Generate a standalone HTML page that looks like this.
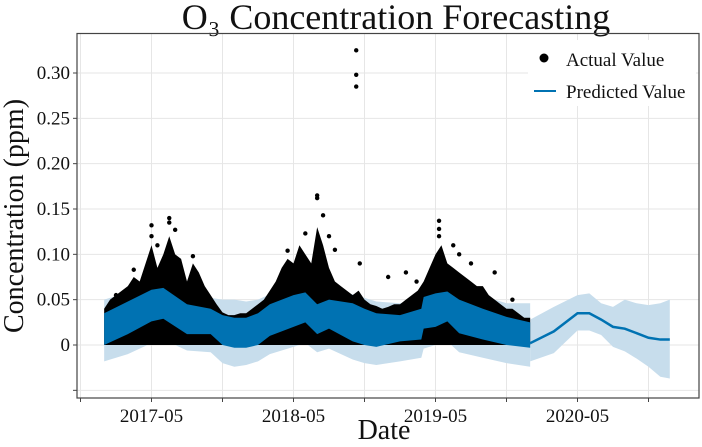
<!DOCTYPE html>
<html><head><meta charset="utf-8"><style>
body{margin:0;background:#fff;width:702px;height:442px;overflow:hidden}
svg text{font-family:"Liberation Serif",serif;fill:#111}
</style></head><body>
<svg id="chart" width="702" height="442" viewBox="0 0 702 442" xmlns="http://www.w3.org/2000/svg">
<text x="396" y="29" font-size="36" text-anchor="middle">O₃ Concentration Forecasting</text>
<g id="grid"></g>
<g id="marks"></g>
<rect x="77" y="33.5" width="622" height="364.5" fill="none" stroke="#444" stroke-width="1.2"/>
<g id="axes"></g>
<text transform="translate(23,216) rotate(-90)" font-size="28" text-anchor="middle">Concentration (ppm)</text>
<text x="384" y="439" font-size="28" text-anchor="middle">Date</text>
<g>
<rect x="528" y="40" width="168" height="66" fill="#fff"/>
<circle cx="544" cy="58" r="4.5" fill="#000"/>
<text x="566" y="66" font-size="19">Actual Value</text>
<line x1="534" y1="91" x2="556" y2="91" stroke="#0072B2" stroke-width="2"/>
<text x="566" y="98" font-size="19">Predicted Value</text>
</g>
</svg>
<script>
// months since 2016-11
const histMonths = [2,4,6,7,9,11,12,13,14,15,16,18,19,20,21,23,24,25,27,28.8,29,30,31,32,34,36,38];
const histYhatHigh = [0.035,0.048,0.061,0.063,0.045,0.04,0.033,0.03,0.03,0.035,0.045,0.055,0.058,0.045,0.05,0.046,0.04,0.035,0.033,0.04,0.053,0.057,0.059,0.05,0.04,0.031,0.025];
const histYhatLow = [0.0,0.012,0.026,0.029,0.012,0.012,0.0,-0.003,-0.003,0.0,0.01,0.02,0.025,0.012,0.018,0.004,0.0,-0.002,0.004,0.006,0.018,0.02,0.026,0.013,0.006,0.0,-0.003];
const histUpper = [0.05,0.058,0.07,0.072,0.058,0.052,0.05,0.05,0.048,0.05,0.056,0.065,0.068,0.058,0.06,0.056,0.052,0.048,0.046,0.052,0.063,0.068,0.07,0.062,0.054,0.046,0.046];
const histLower = [-0.018,-0.01,0.002,0.006,-0.006,-0.008,-0.02,-0.024,-0.022,-0.018,-0.01,-0.002,0.002,-0.008,-0.004,-0.016,-0.02,-0.022,-0.018,-0.014,-0.004,0.0,0.004,-0.008,-0.014,-0.02,-0.024];
const obsMonths = [2,2.5,3,3.5,4,4.5,5,5.5,6,6.5,7,7.5,8,8.5,9,9.5,10,10.5,11,11.5,12,12.5,13,13.5,14,14.5,15,15.5,16,16.5,17,17.5,18,18.5,19,19.5,20,20.5,21,21.5,22,22.5,23,23.5,24,24.5,25,25.5,26,26.5,27,27.5,28,28.5,29,29.5,30,30.5,31,31.5,32,32.5,33,33.5,34,34.5,35,35.5,36,36.5,37,37.5,38];
const obsHigh = [0.04,0.05,0.055,0.06,0.065,0.075,0.07,0.09,0.11,0.085,0.1,0.12,0.1,0.095,0.07,0.09,0.08,0.065,0.055,0.045,0.036,0.033,0.033,0.035,0.035,0.04,0.045,0.05,0.06,0.07,0.085,0.095,0.09,0.11,0.1,0.09,0.13,0.11,0.085,0.07,0.065,0.06,0.055,0.06,0.05,0.045,0.043,0.04,0.042,0.045,0.045,0.05,0.055,0.06,0.07,0.085,0.1,0.11,0.09,0.085,0.08,0.075,0.07,0.065,0.065,0.055,0.05,0.045,0.04,0.04,0.035,0.03,0.03];
const spikeMonths = [3,4.5,6,6,6.5,7.5,7.5,8,9.5,17.5,19,20,20,20.5,21,21.5,23.3,23.3,23.3,23.6,26,27.5,28.4,30.3,30.3,30.3,31.5,32,33,35,36.5];
const spikeValues = [0.055,0.083,0.132,0.12,0.11,0.14,0.135,0.127,0.098,0.104,0.123,0.165,0.162,0.143,0.12,0.105,0.325,0.298,0.285,0.09,0.075,0.08,0.07,0.137,0.128,0.12,0.11,0.1,0.09,0.08,0.05];
const fcMonths = [38,40,42,43,44,45,46,47,48,49,49.8];
const fcYhat = [0.002,0.015,0.035,0.035,0.028,0.02,0.018,0.013,0.008,0.006,0.006];
const fcUpper = [0.028,0.042,0.055,0.057,0.046,0.042,0.05,0.046,0.044,0.046,0.05];
const fcLower = [-0.018,-0.009,0.016,0.016,0.011,-0.002,-0.007,-0.015,-0.024,-0.035,-0.037];
const yTicks = [-0.05,0,0.05,0.1,0.15,0.2,0.25,0.3];
const yTickLabels = ["","0","0.05","0.10","0.15","0.20","0.25","0.30"];
const xGridMonths = [0,6,12,18,24,30,36,42,48];
const xTickMonths = [6,18,30,42];
const xTickLabels = ["2017-05","2018-05","2019-05","2020-05"];

const NS="http://www.w3.org/2000/svg";
const X = m => 80.5 + m*71/6;
const Y = v => 345 - v*906.7;
function mk(tag, attrs, parent){const e=document.createElementNS(NS,tag);for(const k in attrs)e.setAttribute(k,attrs[k]);parent.appendChild(e);return e;}
const grid=document.getElementById('grid'), marks=document.getElementById('marks'), axes=document.getElementById('axes');
yTicks.forEach((v,i)=>{
  const g=mk('line',{x1:77,x2:699,y1:Y(v),y2:Y(v),stroke:'#e6e6e6','stroke-width':1},grid);
  
  
  const t=mk('line',{x1:73,x2:77,y1:Y(v),y2:Y(v),stroke:'#444'},axes);
  
  
  if(yTickLabels[i]){const l=mk('text',{x:70,y:Y(v)+6,'font-size':19,'text-anchor':'end'},axes);l.textContent=yTickLabels[i];
  
  }
});
xGridMonths.forEach(m=>{
  const g=mk('line',{x1:X(m),x2:X(m),y1:34,y2:398,stroke:'#e6e6e6','stroke-width':1},grid);
  
  
  const t=mk('line',{x1:X(m),x2:X(m),y1:398,y2:402,stroke:'#444'},axes);
  
  
});
xTickMonths.forEach((m,i)=>{const l=mk('text',{x:X(m),y:422,'font-size':19,'text-anchor':'middle'},axes);l.textContent=xTickLabels[i];
  
  });
function band(ms,hi,lo,fill,name){
  let d='M'+ms.map((m,i)=>X(m)+','+Y(hi[i])).join('L');
  for(let i=ms.length-1;i>=0;i--)d+='L'+X(ms[i])+','+Y(lo[i]);
  const p=mk('path',{d:d+'Z',fill:fill},marks);
  
  
}
band(histMonths,histUpper,histLower,'#c7ddec','history-uncertainty-band');
band(fcMonths,fcUpper,fcLower,'#c7ddec','forecast-uncertainty-band');
band(obsMonths,obsHigh,obsMonths.map(()=>0),'#000','actual-values-cloud');
band(histMonths,histYhatHigh,histYhatLow,'#0072B2','history-prediction-band');
const fl=mk('path',{d:'M'+fcMonths.map((m,i)=>X(m)+','+Y(fcYhat[i])).join('L'),fill:'none',stroke:'#0072B2','stroke-width':2.5},marks);


spikeMonths.forEach((m,i)=>{const c=mk('circle',{cx:X(m),cy:Y(spikeValues[i]),r:2.2,fill:'#000'},marks);
  
  });
</script>
</body></html>
